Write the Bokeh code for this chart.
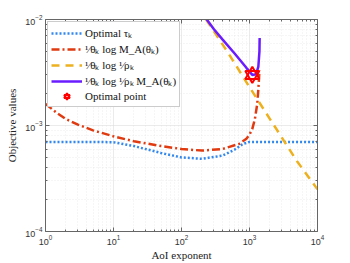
from bokeh.plotting import figure
from bokeh.models import (LogAxis, Legend, LegendItem, CustomJSTickFormatter, Range1d,
                          FixedTicker, LogTickFormatter)
from bokeh.embed import file_html
from bokeh.resources import INLINE

# ---- data ----
tau_x = [1, 5, 10, 20, 50, 100, 200, 400, 600, 800, 1000, 10000]
tau_y = [7.0e-4, 7.0e-4, 6.95e-4, 6.4e-4, 5.5e-4, 5.0e-4, 4.85e-4, 5.2e-4, 5.9e-4, 6.7e-4, 7.0e-4, 7.0e-4]

ma_x = [1, 1.5, 2, 3, 5, 10, 20, 50, 100, 200, 400, 700, 900, 1000, 1100, 1200, 1300, 1350, 1400]
ma_y = [1.6e-3, 1.3e-3, 1.15e-3, 1.02e-3, 9.0e-4, 7.9e-4, 7.1e-4, 6.4e-4, 6.0e-4, 5.8e-4, 6.0e-4,
        6.7e-4, 7.5e-4, 8.2e-4, 9.3e-4, 1.15e-3, 1.6e-3, 2.2e-3, 3.3e-3]

rho_x = [230, 500, 1000, 2000, 5000, 10000]
rho_y = [1.0e-2, 4.7e-3, 2.3e-3, 1.15e-3, 4.6e-4, 2.5e-4]

sum_x = [220, 300, 400, 600, 900, 1100, 1250, 1350, 1400, 1410]
sum_y = [1.06e-2, 8.1e-3, 6.5e-3, 4.8e-3, 3.5e-3, 3.0e-3, 3.05e-3, 3.6e-3, 5.0e-3, 6.7e-3]

opt_x = [1100]
opt_y = [3.0e-3]

x_major = [1, 10, 100, 1000, 10000]
y_major = [1e-4, 1e-3, 1e-2]

labels = ["Optimal τₖ", "¹⁄θₖ log M_A(θₖ)", "¹⁄θₖ log ¹⁄ρₖ", "¹⁄θₖ log ¹⁄ρₖ M_A(θₖ)", "Optimal point"]


def minors(majors):
    out = []
    for m in majors[:-1]:
        out += [m * k for k in range(2, 10)]
    return out


x_ticker = FixedTicker(ticks=x_major, minor_ticks=minors(x_major))
y_ticker = FixedTicker(ticks=y_major, minor_ticks=minors(y_major))

p = figure(x_axis_type="log", y_axis_type="log",
           x_range=Range1d(1, 1e4), y_range=Range1d(1e-4, 1e-2),
           frame_width=272, frame_height=212,
           min_border_left=45, min_border_top=19, min_border_right=12, min_border_bottom=20,
           output_backend="svg", toolbar_location=None, background_fill_color="white",
           border_fill_color="white")
p.outline_line_color = None

r_tau = p.line(tau_x, tau_y, line_color="#3388ee", line_width=2.5, line_dash="2 2")
r_ma = p.line(ma_x, ma_y, line_color="#e03a10", line_width=2.5, line_dash="8 3 2 3")
r_rho = p.line(rho_x, rho_y, line_color="#edb120", line_width=2.5, line_dash="8 6")
r_sum = p.line(sum_x, sum_y, line_color="#6a1cff", line_width=2.5)
r_s1 = p.scatter(opt_x, opt_y, marker="triangle", size=14, line_color="#ff0000",
                 fill_color=None, line_width=2)
r_s2 = p.scatter(opt_x, opt_y, marker="inverted_triangle", size=14, line_color="#ff0000",
                 fill_color=None, line_width=2)

p.xaxis[0].ticker = x_ticker
p.yaxis[0].ticker = y_ticker
p.xaxis[0].formatter = LogTickFormatter()
p.yaxis[0].formatter = LogTickFormatter()

for ax in (p.xaxis[0], p.yaxis[0]):
    ax.axis_line_color = "#666666"
    ax.major_tick_line_color = "#666666"
    ax.minor_tick_line_color = "#666666"
    ax.major_tick_in = 4
    ax.major_tick_out = 0
    ax.minor_tick_in = 2
    ax.minor_tick_out = 0
    ax.major_label_text_font = "Liberation Sans"
    ax.major_label_text_font_size = "9px"
    ax.major_label_text_color = "#333333"
    ax.axis_label_text_font = "Liberation Serif"
    ax.axis_label_text_font_size = "11px"
    ax.axis_label_text_font_style = "normal"
    ax.axis_label_text_color = "#222222"
    ax.major_label_standoff = 3

p.xaxis[0].axis_label_standoff = 1
p.yaxis[0].axis_label_standoff = 4
p.xaxis[0].axis_label = "AoI exponent"
p.yaxis[0].axis_label = "Objective values"

blank = CustomJSTickFormatter(code="return ''")
for loc, tk in (("right", y_ticker), ("above", x_ticker)):
    ax = LogAxis(ticker=tk, formatter=blank, axis_line_color="#666666",
                 major_tick_line_color="#666666", minor_tick_line_color="#666666",
                 major_tick_in=4, major_tick_out=0, minor_tick_in=2, minor_tick_out=0,
                 major_label_standoff=0, major_label_text_font_size="1px")
    p.add_layout(ax, loc)

p.xgrid.grid_line_color = "#dedede"
p.ygrid.grid_line_color = "#dedede"
p.xgrid.grid_line_width = 0.6
p.ygrid.grid_line_width = 0.6
p.xgrid.minor_grid_line_color = "#e2e2e2"
p.ygrid.minor_grid_line_color = "#e2e2e2"
p.xgrid.minor_grid_line_dash = "1 2"
p.ygrid.minor_grid_line_dash = "1 2"
p.xgrid.minor_grid_line_width = 0.6
p.ygrid.minor_grid_line_width = 0.6

legend = Legend(items=[
    LegendItem(label=labels[0], renderers=[r_tau]),
    LegendItem(label=labels[1], renderers=[r_ma]),
    LegendItem(label=labels[2], renderers=[r_rho]),
    LegendItem(label=labels[3], renderers=[r_sum]),
    LegendItem(label=labels[4], renderers=[r_s1, r_s2]),
], location="top_left")
legend.margin = 2
legend.padding = 3
legend.spacing = 1
legend.glyph_width = 31
legend.glyph_height = 14
legend.label_standoff = 3
legend.label_height = 14
legend.label_text_font = "Liberation Serif"
legend.label_text_font_size = "11px"
legend.label_text_color = "#111111"
legend.border_line_color = "#999999"
legend.border_line_width = 1
legend.background_fill_color = "white"
legend.background_fill_alpha = 1
p.add_layout(legend, "center")

open("out.html", "w").write(file_html(p, INLINE))
